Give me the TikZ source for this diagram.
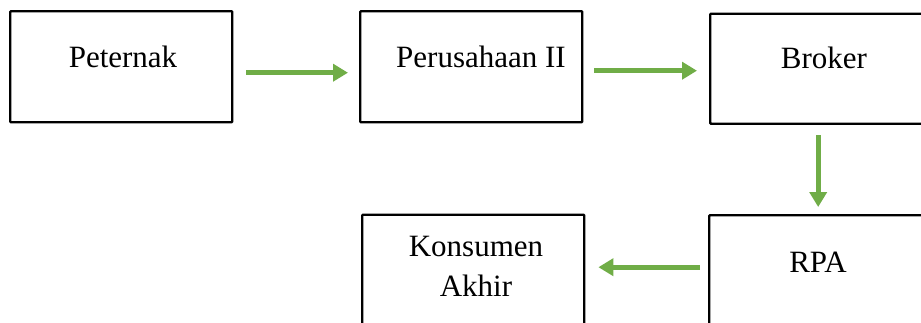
\documentclass[tikz,border=0pt]{standalone}
\usepackage{fontspec}
\setmainfont{Liberation Serif}
\usetikzlibrary{arrows.meta}
\definecolor{flowgreen}{RGB}{112,173,71}
\begin{document}
\begin{tikzpicture}[x=1pt,y=-1pt,
  box/.style={draw=black, line width=2.4pt, rounded corners=0.8pt,
    minimum width=222pt, inner sep=0pt, anchor=north west},
  lbl/.style={font=\fontsize{31}{40}\selectfont, inner sep=0pt, align=center},
  flow/.style={draw=flowgreen, line width=4.6pt,
    -{Triangle[length=15pt,width=17pt]}}]
\useasboundingbox (0,0) rectangle (921,322);
\clip (0,0) rectangle (921,322);

% boxes of the supply chain
\node[box, minimum height=111pt] (b1) at (9,10) {};
\node[box, minimum height=111pt] (b2) at (359,10) {};
\node[box, minimum height=110pt] (b3) at (709,12.5) {};
\node[box, minimum height=120pt] (b4) at (361,213.5) {};
\node[box, minimum height=120pt] (b5) at (708,214) {};

% labels
\node[lbl, anchor=base] (t1) at (123,67) {Peternak};
\node[lbl, anchor=base] (t2) at (481,67) {Perusahaan II};
\node[lbl, anchor=base] (t3) at (824,68) {Broker};
\node[lbl, anchor=center] (t4) at (476,266) {Konsumen\\Akhir};
\node[lbl, anchor=base] (t5) at (818,272) {RPA};

% flow arrows
\draw[flow] ([shift={(13,6)}]b1.east) -- ([shift={(-11,6)}]b2.west);
\draw[flow] ([shift={(11,4)}]b2.east) -- ([shift={(-12,2)}]b3.west);
\draw[flow] ([shift={(-3,10.5)}]b3.south) -- ([shift={(-2,-7)}]b5.north);
\draw[flow] ([shift={(-8,-8)}]b5.west) -- ([shift={(13,-7.5)}]b4.east);
\end{tikzpicture}
\end{document}
